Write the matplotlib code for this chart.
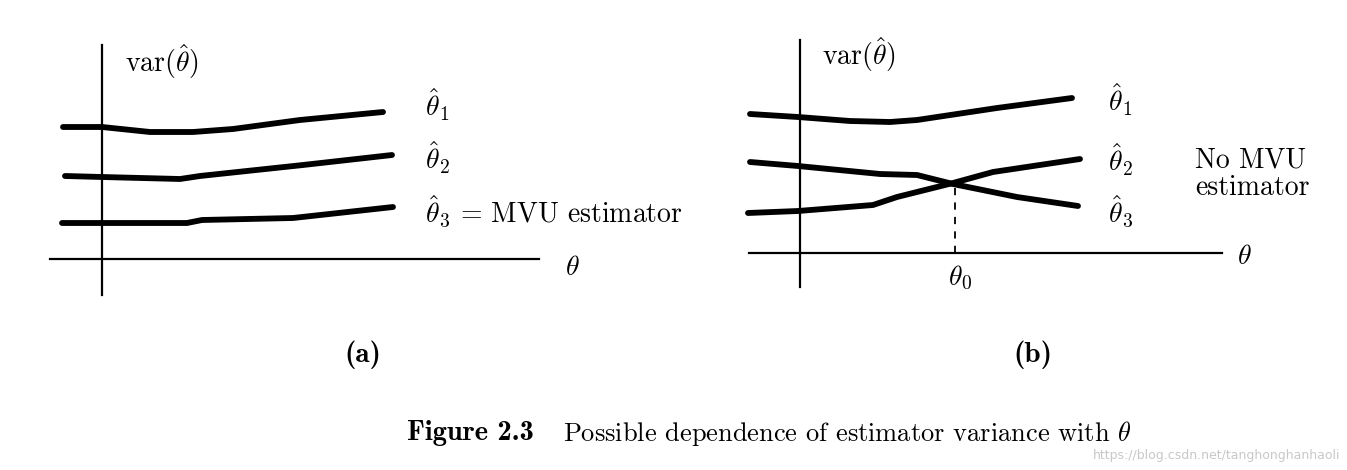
import matplotlib
matplotlib.use('Agg')
import matplotlib.pyplot as plt

plt.rcParams['mathtext.fontset'] = 'cm'
plt.rcParams['font.family'] = 'cmr10'
plt.rcParams['axes.unicode_minus'] = False

# panel (a): three estimators, theta_3 uniformly best
theta_a1 = [-0.39, 0.0, 0.48, 0.91, 1.31, 1.98, 2.81]
var_a1 = [1.32, 1.32, 1.27, 1.27, 1.30, 1.39, 1.47]
theta_a2 = [-0.37, 0.0, 0.78, 0.98, 2.01, 2.90]
var_a2 = [0.83, 0.82, 0.80, 0.83, 0.94, 1.04]
theta_a3 = [-0.40, 0.0, 0.85, 1.00, 1.91, 2.91]
var_a3 = [0.36, 0.36, 0.36, 0.39, 0.41, 0.52]

# panel (b): theta_2 and theta_3 cross at theta_0
theta_b1 = [-0.50, -0.02, 0.50, 0.90, 1.17, 1.97, 2.72]
var_b1 = [1.39, 1.36, 1.32, 1.31, 1.33, 1.45, 1.55]
theta_b2 = [-0.52, -0.02, 0.73, 0.97, 1.53, 1.93, 2.80]
var_b2 = [0.40, 0.42, 0.48, 0.56, 0.70, 0.81, 0.94]
theta_b3 = [-0.50, -0.02, 0.80, 1.17, 1.53, 2.17, 2.78]
var_b3 = [0.91, 0.87, 0.79, 0.78, 0.69, 0.56, 0.47]
theta0 = 1.55
var_cross = 0.70

W, H = 1347, 470
fig = plt.figure(figsize=(W / 100, H / 100), dpi=100)

CURVE = dict(color='black', lw=4.2, solid_capstyle='round', solid_joinstyle='round')
AXIS = dict(color='black', lw=1.6)
FS = 20

# panel (a)
ax1 = fig.add_axes([0, 1 - 320 / H, 673 / W, 320 / H])
ax1.set_xlim(-1.02, 5.71)
ax1.set_ylim(-0.61, 2.59)
ax1.axis('off')
ax1.plot([-0.52, 4.37], [0, 0], **AXIS)
ax1.plot([0, 0], [-0.36, 2.14], **AXIS)
ax1.plot(theta_a1, var_a1, **CURVE)
ax1.plot(theta_a2, var_a2, **CURVE)
ax1.plot(theta_a3, var_a3, **CURVE)
ax1.text(0.23, 1.97, r'var$(\hat{\theta})$', fontsize=FS, va='center')
ax1.text(3.23, 1.54, r'$\hat{\theta}_1$', fontsize=FS, va='center')
ax1.text(3.23, 1.01, r'$\hat{\theta}_2$', fontsize=FS, va='center')
ax1.text(3.23, 0.47, r'$\hat{\theta}_3$ = MVU estimator', fontsize=FS, va='center')
ax1.text(4.63, -0.09, r'$\theta$', fontsize=FS, va='center')

# panel (b)
ax2 = fig.add_axes([673 / W, 1 - 320 / H, 674 / W, 320 / H])
ax2.set_xlim(-1.27, 5.47)
ax2.set_ylim(-0.67, 2.53)
ax2.axis('off')
ax2.plot([-0.51, 4.22], [0, 0], **AXIS)
ax2.plot([0, 0], [-0.34, 2.13], **AXIS)
ax2.plot(theta_b1, var_b1, **CURVE)
ax2.plot(theta_b2, var_b2, **CURVE)
ax2.plot(theta_b3, var_b3, **CURVE)
ax2.plot([theta0, theta0], [0, var_cross], color='black', lw=1.3, ls=(0, (4, 4)))
ax2.text(0.22, 1.98, r'var$(\hat{\theta})$', fontsize=FS, va='center')
ax2.text(3.08, 1.53, r'$\hat{\theta}_1$', fontsize=FS, va='center')
ax2.text(3.08, 0.93, r'$\hat{\theta}_2$', fontsize=FS, va='center')
ax2.text(3.08, 0.41, r'$\hat{\theta}_3$', fontsize=FS, va='center')
ax2.text(4.37, -0.04, r'$\theta$', fontsize=FS, va='center')
ax2.text(theta0 + 0.05, -0.25, r'$\theta_0$', fontsize=FS, va='center', ha='center')
ax2.text(3.95, 0.93, 'No MVU', fontsize=FS, va='center')
ax2.text(3.95, 0.65, 'estimator', fontsize=FS, va='center')

# sub-labels and caption
fig.text(363 / W, 1 - 355 / H, '(a)', family='cmb10', fontsize=21, ha='center', va='center')
fig.text(1033 / W, 1 - 355 / H, '(b)', family='cmb10', fontsize=21, ha='center', va='center')
fig.text(407 / W, 1 - 433 / H, 'Figure 2.3', family='cmb10', fontsize=20.5, va='center')
fig.text(563 / W, 1 - 433 / H, r'Possible dependence of estimator variance with $\theta$',
         fontsize=19, va='center')
fig.text(1340 / W, 1 - 456 / H, 'https://blog.csdn.net/tanghonghanhaoli',
         family='DejaVu Sans', fontsize=9, color='#c8c8c8', ha='right', va='center')

fig.savefig('out.png', dpi=100, facecolor='white')
